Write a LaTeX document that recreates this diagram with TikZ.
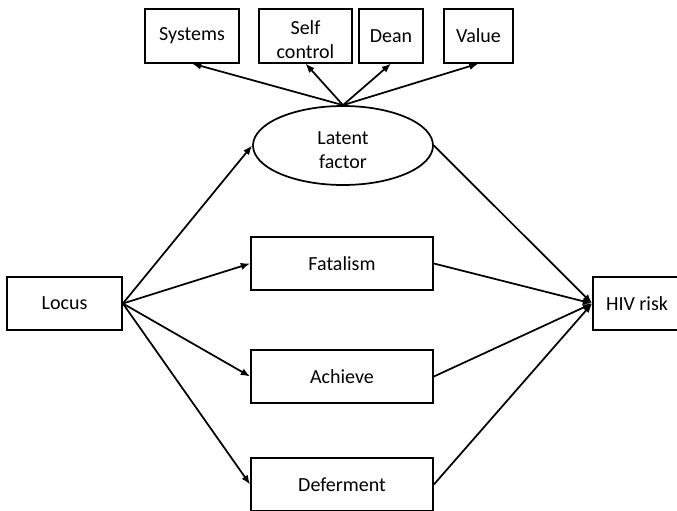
\documentclass[tikz,border=0pt]{standalone}
\usepackage{fontspec}
\setmainfont{Carlito}
\usetikzlibrary{shapes.geometric,arrows.meta}
\newcommand{\twolines}[2]{\raisebox{-4.5pt}[\height][\depth]{\begin{tabular}{@{}c@{}}#1\\#2\end{tabular}}}
\begin{document}
\begin{tikzpicture}[x=0.75pt,y=-0.75pt,
		box/.style={draw,line width=1.3pt,minimum height=39.75pt,inner sep=0pt,align=center,font=\fontsize{15}{18}\selectfont},
		link/.style={line width=1.3pt,-{Latex[length=7pt,width=5.5pt]}}]
	\useasboundingbox (0,0) rectangle (677,510);
	\clip (0,0) rectangle (677,510);
	% indicators
	\node[box,minimum width=70.5pt,minimum height=40pt] (systems) at (192,36) {Systems};
	\node[box,minimum width=69.75pt,minimum height=40pt] (selfcontrol) at (305.5,36) {\twolines{Self}{control}};
	\node[box,minimum width=48pt,minimum height=40pt] (dean) at (391,36) {Dean};
	\node[box,minimum width=51.75pt,minimum height=40pt] (value) at (478.5,36) {Value};
	\node[box,ellipse,minimum width=135pt,minimum height=59.25pt] (latent) at (343,145.5) {\twolines{Latent}{factor}};
	% mediators
	\node[box,minimum width=86.25pt] (locus) at (64.5,303.5) {Locus};
	\node[box,minimum width=136.5pt] (fatalism) at (342,263.5) {Fatalism};
	\node[box,minimum width=136.5pt] (achieve) at (342,376.5) {Achieve};
	\node[box,minimum width=136.5pt] (deferment) at (342,484.5) {Deferment};
	\node[box,minimum width=66pt] (hiv) at (637,303.5) {HIV risk};
	\foreach \t in {systems,selfcontrol,dean,value}
	\draw[link] (latent.north) -- (\t.south);
	\foreach \t in {latent,fatalism,achieve,deferment}
	\draw[link] (locus.east) -- (\t.west);
	\foreach \s in {latent,fatalism,achieve,deferment}
	\draw[link] (\s.east) -- (hiv.west);
\end{tikzpicture}
\end{document}
